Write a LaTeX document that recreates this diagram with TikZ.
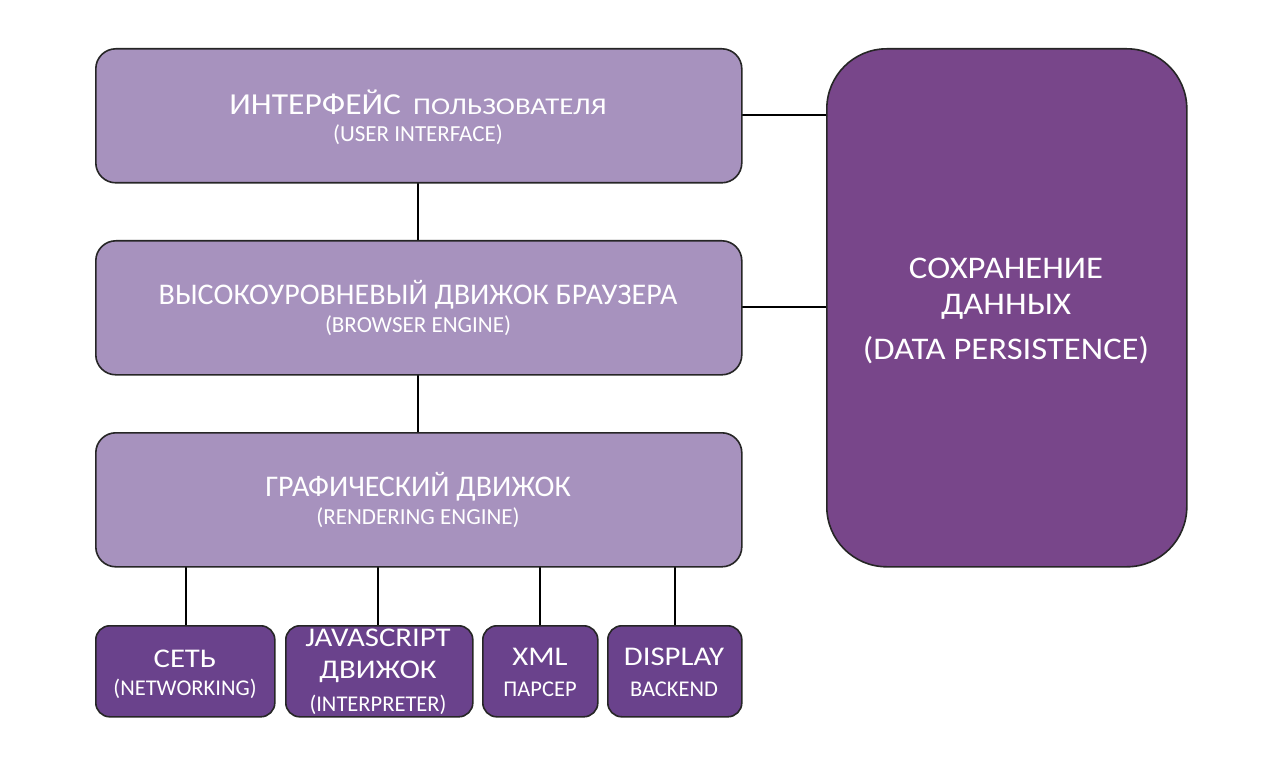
\documentclass[tikz,border=0pt]{standalone}
\usepackage{fontspec}
\setmainfont{Carlito}
\newfontfamily\fsA[FakeStretch=1.1]{Carlito}
\newfontfamily\fsB[FakeStretch=1.14]{Carlito}
\newfontfamily\fsC[FakeStretch=1.2]{Carlito}
\definecolor{lightP}{HTML}{A792BE}
\definecolor{darkP}{HTML}{78468A}
\definecolor{botP}{HTML}{6A428C}
\begin{document}
\begin{tikzpicture}[x=1pt,y=-1pt,
  box/.style={draw=black!85, line width=1.6pt, rounded corners=#1, anchor=north west, inner sep=0pt},
  lbox/.style={box=20pt, fill=lightP},
  dbox/.style={box=60pt, fill=darkP},
  bbox/.style={box=14pt, fill=botP},
  big/.style={text=white, font=\fontsize{30}{36}\selectfont, inner sep=0pt},
  sub/.style={text=white, font=\fontsize{23}{28}\selectfont, inner sep=0pt},
  dpt/.style={text=white, font=\fsA\fontsize{31.5}{38}\selectfont, inner sep=0pt},
  bt/.style={text=white, font=\fsB\fontsize{27}{32}\selectfont, inner sep=0pt},
  bs/.style={text=white, font=\fontsize{22.5}{27}\selectfont, inner sep=0pt},
  link/.style={draw=black, line width=2.6pt}]
\useasboundingbox[fill=white] (0,0) rectangle (1280,762);
% connectors (drawn first)
\coordinate (c1t) at (418,182); \coordinate (c1b) at (418,240);
\coordinate (c2t) at (418,374); \coordinate (c2b) at (418,432);
\draw[link] (c1t) -- (c1b);
\draw[link] (c2t) -- (c2b);
\coordinate (h1a) at (741,115); \coordinate (h1b) at (826,115);
\coordinate (h2a) at (741,307); \coordinate (h2b) at (826,307);
\draw[link] (h1a) -- (h1b);
\draw[link] (h2a) -- (h2b);
\coordinate (v1a) at (186,566); \coordinate (v1b) at (186,625);
\coordinate (v2a) at (378,566); \coordinate (v2b) at (378,625);
\coordinate (v3a) at (540,566); \coordinate (v3b) at (540,625);
\coordinate (v4a) at (675,566); \coordinate (v4b) at (675,625);
\draw[link] (v1a) -- (v1b);
\draw[link] (v2a) -- (v2b);
\draw[link] (v3a) -- (v3b);
\draw[link] (v4a) -- (v4b);
% boxes
\node[lbox, minimum width=646pt, minimum height=134pt] (ui) at (95,48) {};
\node[lbox, minimum width=646pt, minimum height=134pt] (be) at (95,240) {};
\node[lbox, minimum width=646pt, minimum height=134pt] (re) at (95,432) {};
\node[dbox, minimum width=360pt, minimum height=518pt] (dp) at (826,48) {};
\node[bbox, minimum width=179pt, minimum height=91pt] (net) at (95,625) {};
\node[bbox, minimum width=187pt, minimum height=91pt] (js) at (285,625) {};
\node[bbox, minimum width=115pt, minimum height=91pt] (xml) at (482,625) {};
\node[bbox, minimum width=134pt, minimum height=91pt] (disp) at (607,625) {};
% texts
\node[text=white, inner sep=0pt] (uit1) at (418,102) {{\fsA\fontsize{30.5}{36}\selectfont ИНТЕРФЕЙС}\hspace{12pt}{\fsC\fontsize{24}{28}\selectfont ПОЛЬЗОВАТЕЛЯ}};
\node[sub] (uit2) at (418,135) {(USER INTERFACE)};
\node[big] (bet1) at (418,295) {ВЫСОКОУРОВНЕВЫЙ ДВИЖОК БРАУЗЕРА};
\node[sub] (bet2) at (418,326) {(BROWSER ENGINE)};
\node[big] (ret1) at (418,487) {ГРАФИЧЕСКИЙ ДВИЖОК};
\node[sub] (ret2) at (418,518) {(RENDERING ENGINE)};
\node[dpt] (dpt1) at (1006,268) {СОХРАНЕНИЕ};
\node[dpt] (dpt2) at (1006,307) {ДАННЫХ};
\node[dpt] (dpt3) at (1006,350) {(DATA PERSISTENCE)};
\node[bt] (nett1) at (185,659) {СЕТЬ};
\node[bs] (nett2) at (185,689) {(NETWORKING)};
\node[bt] (jst1) at (378,638) {JAVASCRIPT};
\node[bt] (jst2) at (378,672) {ДВИЖОК};
\node[bs] (jst3) at (378,705) {(INTERPRETER)};
\node[bt] (xmlt1) at (540,657) {XML};
\node[bs] (xmlt2) at (540,689) {ПАРСЕР};
\node[bt] (dispt1) at (674,657) {DISPLAY};
\node[bs] (dispt2) at (674,689) {BACKEND};
\end{tikzpicture}
\end{document}
